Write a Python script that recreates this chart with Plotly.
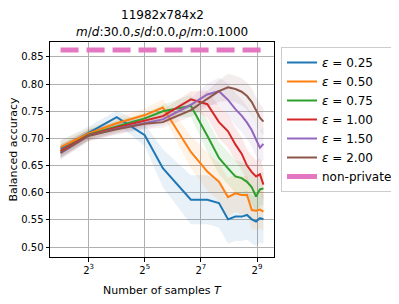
import plotly.graph_objects as go

T = [4, 8, 16, 32, 50, 100, 150, 200, 250, 300, 350, 400, 450, 500, 550, 600]
eps_labels = ["0.25", "0.50", "0.75", "1.00", "1.50", "2.00"]
colors = ["#1f77b4", "#ff7f0e", "#2ca02c", "#d62728", "#9467bd", "#8c564b"]

acc_025 = [0.681, 0.710, 0.739, 0.706, 0.645, 0.587, 0.587, 0.581, 0.551, 0.556, 0.556, 0.559, 0.551, 0.547, 0.553, 0.551]
acc_050 = [0.684, 0.709, 0.728, 0.743, 0.757, 0.675, 0.639, 0.620, 0.592, 0.599, 0.596, 0.596, 0.568, 0.567, 0.569, 0.565]
acc_075 = [0.677, 0.707, 0.722, 0.737, 0.750, 0.760, 0.705, 0.664, 0.645, 0.630, 0.627, 0.620, 0.610, 0.593, 0.606, 0.608]
acc_100 = [0.677, 0.706, 0.720, 0.732, 0.741, 0.772, 0.763, 0.730, 0.713, 0.689, 0.672, 0.650, 0.638, 0.630, 0.634, 0.615]
acc_150 = [0.673, 0.705, 0.718, 0.728, 0.735, 0.762, 0.781, 0.787, 0.771, 0.754, 0.742, 0.729, 0.715, 0.698, 0.683, 0.690]
acc_200 = [0.674, 0.705, 0.717, 0.727, 0.730, 0.752, 0.773, 0.787, 0.794, 0.791, 0.786, 0.778, 0.767, 0.752, 0.738, 0.731]

std_025 = [0.015, 0.012, 0.012, 0.020, 0.035, 0.045, 0.045, 0.045, 0.045, 0.045, 0.045, 0.045, 0.045, 0.045, 0.045, 0.045]
std_050 = [0.012, 0.010, 0.010, 0.012, 0.015, 0.030, 0.035, 0.035, 0.035, 0.035, 0.035, 0.035, 0.035, 0.035, 0.035, 0.035]
std_075 = [0.012, 0.010, 0.010, 0.010, 0.012, 0.020, 0.030, 0.030, 0.030, 0.030, 0.030, 0.030, 0.030, 0.030, 0.030, 0.030]
std_100 = [0.012, 0.010, 0.010, 0.010, 0.012, 0.015, 0.025, 0.030, 0.030, 0.030, 0.030, 0.030, 0.030, 0.030, 0.030, 0.030]
std_150 = [0.012, 0.010, 0.010, 0.010, 0.010, 0.012, 0.020, 0.025, 0.030, 0.030, 0.030, 0.030, 0.030, 0.030, 0.030, 0.030]
std_200 = [0.012, 0.010, 0.010, 0.010, 0.010, 0.012, 0.015, 0.020, 0.025, 0.025, 0.025, 0.025, 0.025, 0.025, 0.025, 0.025]

nonprivate_acc = 0.863

title_lines = ["11982x784x2",
               "<i>m</i>/<i>d</i>:30.0,<i>s</i>/<i>d</i>:0.0,<i>ρ</i>/<i>m</i>:0.1000"]

series = [acc_025, acc_050, acc_075, acc_100, acc_150, acc_200]
stds = [std_025, std_050, std_075, std_100, std_150, std_200]

def rgba(hexc, a):
    h = hexc.lstrip("#")
    return "rgba(%d,%d,%d,%s)" % (int(h[0:2], 16), int(h[2:4], 16), int(h[4:6], 16), a)

fig = go.Figure()
for vals, sd, c in zip(series, stds, colors):
    up = [v + s for v, s in zip(vals, sd)]
    lo = [v - s for v, s in zip(vals, sd)]
    fig.add_trace(go.Scatter(x=T + T[::-1], y=up + lo[::-1], fill="toself",
                             fillcolor=rgba(c, 0.1), line=dict(width=0),
                             mode="lines", showlegend=False, hoverinfo="skip"))
for vals, lab, c in zip(series, eps_labels, colors):
    fig.add_trace(go.Scatter(x=T, y=vals, mode="lines", line=dict(color=c, width=2),
                             name="<i>ε</i> = " + lab))

fig.add_trace(go.Scatter(x=[T[0], T[-1]], y=[nonprivate_acc, nonprivate_acc], mode="lines",
                         line=dict(color="#e377c2", width=5, dash="18px,8px"),
                         showlegend=False))
fig.add_trace(go.Scatter(x=[None], y=[None], mode="lines",
                         line=dict(color="#e377c2", width=5), name="non-private"))

axis_common = dict(showline=True, linecolor="black", linewidth=1, mirror=True,
                   showgrid=True, gridcolor="#b0b0b0", gridwidth=0.8,
                   ticks="outside", ticklen=3.5, tickcolor="black",
                   tickfont=dict(size=10, color="black"), zeroline=False)

fig.update_xaxes(type="log", range=[0.4886, 2.8914],
                 tickvals=[8, 32, 128, 512],
                 ticktext=["2<sup>3</sup>", "2<sup>5</sup>", "2<sup>7</sup>", "2<sup>9</sup>"],
                 **axis_common)
fig.update_yaxes(range=[0.4816, 0.8776], tickvals=[0.5, 0.55, 0.6, 0.65, 0.7, 0.75, 0.8, 0.85],
                 ticktext=["0.50", "0.55", "0.60", "0.65", "0.70", "0.75", "0.80", "0.85"],
                 **axis_common)

# figure is drawn offset by the page's 8px body margin
W, H = 391, 296
L, R, TOP, B = 42, 125, 34, 47
pw, ph = W - L - R, H - TOP - B

annots = []
for i, line in enumerate(title_lines):
    annots.append(dict(text=line, xref="paper", yref="paper", x=0.5, xanchor="center",
                       y=1 + (TOP - [7, 23.5][i]) / ph, yanchor="middle",
                       showarrow=False, font=dict(size=12, color="black")))
annots.append(dict(text="Balanced accuracy", xref="paper", yref="paper",
                   x=(5 - L) / pw, xanchor="center", y=0.5, yanchor="middle",
                   textangle=-90, showarrow=False, font=dict(size=11, color="black")))
annots.append(dict(text="Number of samples <i>T</i>", xref="paper", yref="paper",
                   x=0.5, xanchor="center", y=-(282 - (H - B)) / ph, yanchor="middle",
                   showarrow=False, font=dict(size=11, color="black")))

fig.update_layout(
    width=W, height=H,
    margin=dict(l=L, r=R, t=TOP, b=B, autoexpand=False),
    paper_bgcolor="white", plot_bgcolor="white",
    font=dict(family="DejaVu Sans", color="black"),
    annotations=annots,
    legend=dict(x=(273 - L) / pw, xanchor="left", y=1 - (39 - TOP) / ph, yanchor="top",
                bordercolor="#cccccc", borderwidth=1, bgcolor="white",
                font=dict(size=12, color="black"), itemwidth=30,
                tracegroupgap=0),
    showlegend=True,
)

fig.write_html("out.html")
